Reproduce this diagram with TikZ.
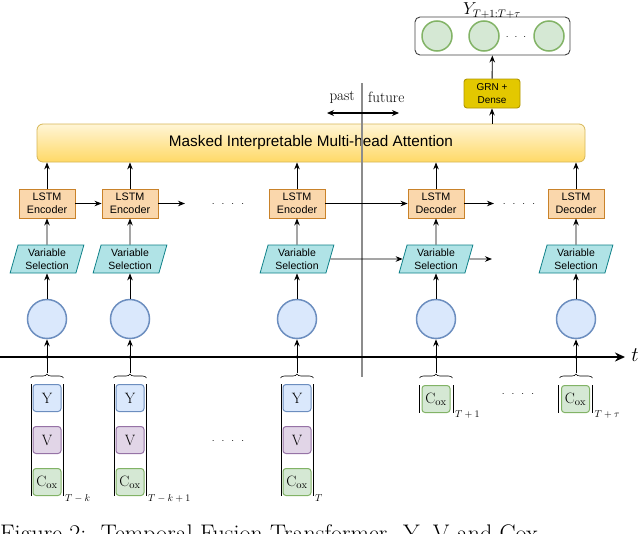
\documentclass[tikz,border=0pt]{standalone}
\usepackage{fontspec}
\newfontfamily\arialf{Liberation Sans}
\usetikzlibrary{arrows.meta,shapes.geometric,decorations.pathreplacing}
\definecolor{lstmfill}{HTML}{FAD7AC}
\definecolor{lstmdraw}{HTML}{C9822A}
\definecolor{vsfill}{HTML}{B0E3E6}
\definecolor{vsdraw}{HTML}{0E8088}
\definecolor{bluefill}{HTML}{DAE8FC}
\definecolor{bluedraw}{HTML}{6C8EBF}
\definecolor{purfill}{HTML}{E1D5E7}
\definecolor{purdraw}{HTML}{9673A6}
\definecolor{grfill}{HTML}{D5E8D4}
\definecolor{grdraw}{HTML}{82B366}
\definecolor{grnfill}{HTML}{E3C800}
\definecolor{grndraw}{HTML}{B09500}
\definecolor{atttop}{HTML}{FFF5D6}
\definecolor{attbot}{HTML}{FFD966}
\definecolor{attdraw}{HTML}{D6B656}
\begin{document}
\begin{tikzpicture}[x=1pt,y=-1pt,
  arr/.style={-{Stealth[length=7pt,width=5.5pt]}, line width=0.9pt},
  lstm/.style={draw=lstmdraw, fill=lstmfill, line width=0.9pt, minimum width=56pt, minimum height=29pt, inner sep=0pt, align=center, font=\arialf\fontsize{10.8}{13}\selectfont},
  vsel/.style={trapezium, trapezium left angle=74, trapezium right angle=106, trapezium stretches=true, draw=vsdraw, fill=vsfill, line width=0.8pt, minimum width=74pt, minimum height=28pt, inner sep=0pt, align=center, font=\arialf\fontsize{10.5}{13}\selectfont},
  emb/.style={circle, draw=bluedraw, fill=bluefill, line width=1.5pt, minimum size=39pt, inner sep=0pt},
  outc/.style={circle, draw=grdraw, fill=grfill, line width=1.5pt, minimum size=30pt, inner sep=0pt},
  vbox/.style={rounded corners=3pt, line width=1pt, minimum width=28pt, minimum height=27pt, inner sep=0pt, font=\fontsize{15}{15}\selectfont},
  ybox/.style={vbox, draw=bluedraw, fill=bluefill},
  pbox/.style={vbox, draw=purdraw, fill=purfill},
  cbox/.style={vbox, draw=grdraw, fill=grfill},
  bar/.style={line width=0.8pt},
  brc/.style={decorate, decoration={brace, amplitude=4pt}, line width=0.6pt},
  sub/.style={anchor=west, inner sep=0pt, font=\fontsize{10}{10}\selectfont},
  dotsn/.style={inner sep=0pt, font=\fontsize{10}{10}\selectfont}
]
\useasboundingbox (0,0) rectangle (640,533);

% attention
\node[draw=attdraw, top color=atttop, bottom color=attbot, rounded corners=6pt, line width=0.8pt,
      minimum width=548pt, minimum height=38pt, inner sep=0pt,
      font=\arialf\fontsize{15.3}{15.3}\selectfont] (att) at (311,143) {Masked Interpretable Multi-head Attention};

% separator past/future
\coordinate (s0) at (362,83);
\coordinate (s1) at (362,377);
\draw[line width=1.2pt, black!45] (s0) -- (s1);
\node[font=\fontsize{15}{15}\selectfont, anchor=east, inner sep=0pt] (past) at (355,97) {past};
\node[font=\fontsize{15}{15}\selectfont, anchor=west, inner sep=0pt] (fut) at (368,97) {future};
\coordinate (pa) at (327,113);
\coordinate (pb) at (399,113);
\draw[{Stealth[length=7pt,width=6pt]}-{Stealth[length=7pt,width=6pt]}, line width=1.5pt] (pa) -- (pb);

% output
\node[draw=black!75, rounded corners=5pt, line width=0.9pt, minimum width=155pt, minimum height=38pt, inner sep=0pt] (out) at (492.5,36) {};
\node[outc] (o1) at (437,36) {};
\node[outc] (o2) at (484,36) {};
\node[outc] (o3) at (549,36) {};
\node[inner sep=0pt, font=\fontsize{10}{10}\selectfont] (od) at (516,37) {${\cdot}\hspace{6pt}{\cdot}\hspace{6pt}{\cdot}$};
\node[inner sep=0pt, font=\fontsize{16}{16}\selectfont] (ylab) at (492,10.5) {$Y_{T+1:T+\tau}$};

\node[draw=grndraw, fill=grnfill, rounded corners=3pt, line width=0.9pt, minimum width=56pt, minimum height=29pt, inner sep=0pt, align=center, font=\arialf\fontsize{10}{13}\selectfont] (grn) at (492,93.5) {GRN +\\Dense};
\draw[arr] (att.north -| grn) -- (grn);
\draw[arr] (grn) -- (out);

% timeline
\coordinate (t0) at (0,357);
\coordinate (t1) at (625,357);
\draw[line width=1.8pt, -{Stealth[length=10pt,width=9pt]}] (t0) -- (t1);
\node[inner sep=0pt, font=\fontsize{20}{20}\selectfont] (tl) at (635,355) {$t$};

% columns
\foreach \i/\x/\lab in {1/47/Encoder,2/130/Encoder,3/297/Encoder,4/436/Decoder,5/576/Decoder}{
  \node[lstm] (l\i) at (\x,203.5) {LSTM\\\lab};
  \node[vsel] (v\i) at (\x,259) {Variable\\Selection};
  \node[emb] (c\i) at (\x,319) {};
  \draw[arr] (l\i) -- (att.south -| l\i);
  \draw[arr] (v\i) -- (l\i);
  \draw[arr] (c\i) -- (v\i);
  \coordinate (b\i) at (\x,373);
  \coordinate (bl\i) at (\x-16.5,378);
  \coordinate (br\i) at (\x+16.5,378);
  \draw[brc] (bl\i) -- (br\i);
  \draw[arr] (b\i) -- (c\i);
  \fill (\x,357) circle (1.6pt);
}

% horizontal connectors
\coordinate (h2) at (185,203.5);
\coordinate (h4) at (494,203.5);
\coordinate (hv4) at (492,259);
\draw[arr] (l1) -- (l2);
\draw[arr] (l2) -- (h2);
\draw[arr] (l3) -- (l4);
\draw[arr] (l4) -- (h4);
\draw[arr] (v3) -- (v4);
\draw[arr] (v4.east) -- (hv4);

\node[dotsn] (d1) at (228,204) {${\cdot}\hspace{7pt}{\cdot}\hspace{7pt}{\cdot}\hspace{7pt}{\cdot}$};
\node[dotsn] (d2) at (519,204) {${\cdot}\hspace{7pt}{\cdot}\hspace{7pt}{\cdot}\hspace{7pt}{\cdot}$};
\node[dotsn] (d3) at (228,441) {${\cdot}\hspace{7pt}{\cdot}\hspace{7pt}{\cdot}\hspace{7pt}{\cdot}$};
\node[dotsn] (d4) at (518,394) {${\cdot}\hspace{7pt}{\cdot}\hspace{7pt}{\cdot}\hspace{7pt}{\cdot}$};

% past inputs
\foreach \i/\x/\s in {1/47/T-k,2/130/T-k+1,3/297/T}{
  \draw[bar] (\x-16,384) -- (\x-16,496);
  \draw[bar] (\x+16,384) -- (\x+16,496);
  \node[ybox] (y\i) at (\x,398) {Y};
  \node[pbox] (p\i) at (\x,440) {V};
  \node[cbox] (k\i) at (\x,482) {$\mathrm{C}_{\mathrm{ox}}$};
  \node[sub] (s\i) at (\x+18,498) {$\s$};
}
% future inputs
\foreach \i/\x/\s in {4/436/T+1,5/575.5/T+\tau}{
  \draw[bar] (\x-17,385) -- (\x-17,413);
  \draw[bar] (\x+17,385) -- (\x+17,413);
  \node[cbox] (k\i) at (\x,399) {$\mathrm{C}_{\mathrm{ox}}$};
  \node[sub] (s\i) at (\x+19,414) {$\s$};
}

% caption (cropped at the lower edge, as in the reference)
\node[anchor=base west, inner sep=0pt, font=\fontsize{24}{24}\selectfont] (cap) at (0,541) {Figure 2:\ \ Temporal Fusion Transformer. Y, V and Cox};
\end{tikzpicture}
\end{document}
